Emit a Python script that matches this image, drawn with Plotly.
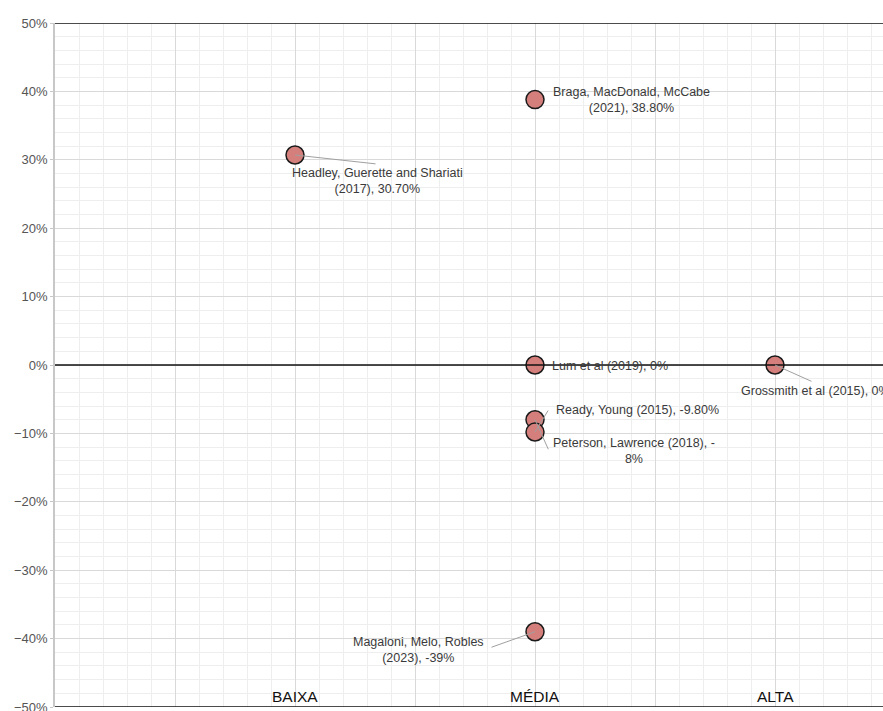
import plotly.graph_objects as go

# ---- data ----
categories = ["BAIXA", "MÉDIA", "ALTA"]
studies = [
    "Headley, Guerette and Shariati<br>(2017), 30.70%",
    "Braga, MacDonald, McCabe<br>(2021), 38.80%",
    "Lum et al (2019), 0%",
    "Grossmith et al (2015), 0%",
    "Peterson, Lawrence (2018), -<br>8%",
    "Ready, Young (2015), -9.80%",
    "Magaloni, Melo, Robles<br>(2023), -39%",
]
level = ["BAIXA", "MÉDIA", "MÉDIA", "ALTA", "MÉDIA", "MÉDIA", "MÉDIA"]
effect = [0.307, 0.388, 0.0, 0.0, -0.08, -0.098, -0.39]

# label placement (pixel offsets from point: text centre, leader end)
text_off = [(82, 26), (96, 0), (75, 1), (40, 26), (99, 31), (102, -22), (-117, 18)]
lead_off = [(82, 9), None, None, (38, 17), (14, 31), (14, -23), (-45, 16)]

xpos = [categories.index(l) + 1 for l in level]

fig = go.Figure()
fig.add_trace(go.Scatter(
    x=xpos, y=effect, mode="markers",
    marker=dict(size=18, color="#d57f7c", line=dict(color="#1a1a1a", width=1.5)),
    hoverinfo="skip", showlegend=False,
))

ann = []
for x, y, t, to, lo in zip(xpos, effect, studies, text_off, lead_off):
    if lo is not None:
        ann.append(dict(x=x, y=y, xref="x", yref="y", text="", showarrow=True,
                        arrowhead=0, arrowwidth=1, arrowcolor="#a0a0a0",
                        ax=lo[0], ay=lo[1], standoff=0, startstandoff=0))
    ann.append(dict(x=x, y=y, xref="x", yref="y", text=t, showarrow=False,
                    xanchor="center", yanchor="middle", align="center",
                    xshift=to[0], yshift=-to[1],
                    font=dict(family="Liberation Sans, Arial", size=12.5, color="#3a3a3a")))

for i, c in enumerate(categories):
    ann.append(dict(x=i + 1, y=-0.5, xref="x", yref="y", text=c, showarrow=False,
                    xanchor="center", yanchor="bottom", yshift=0,
                    font=dict(family="Liberation Sans, Arial", size=15.5, color="#111111")))

shapes = []
for yy in [0.5, 0.0, -0.5]:
    shapes.append(dict(type="line", xref="paper", yref="y", x0=0, x1=1, y0=yy, y1=yy,
                       line=dict(color="#111111", width=1.5), layer="above"))

fig.update_layout(
    width=883, height=711,
    margin=dict(l=55, r=0, t=23, b=4, autoexpand=False),
    paper_bgcolor="white", plot_bgcolor="white",
    annotations=ann, shapes=shapes,
    xaxis=dict(range=[0, 3.45], tick0=0, dtick=0.5, showticklabels=False,
               showgrid=True, gridcolor="#d9d9d9", gridwidth=1, zeroline=False,
               minor=dict(dtick=0.1, tick0=0, showgrid=True, gridcolor="#eeeeee", gridwidth=1),
               showline=False, fixedrange=True, automargin=False),
    yaxis=dict(range=[-0.5, 0.5], tick0=0, dtick=0.1, tickformat=".0%",
               showgrid=True, gridcolor="#d9d9d9", gridwidth=1, zeroline=False,
               minor=dict(dtick=0.02, tick0=0, showgrid=True, gridcolor="#eeeeee", gridwidth=1),
               showline=True, linecolor="#c8c8c8", linewidth=1.5,
               ticks="outside", ticklen=3, tickcolor="#c8c8c8",
               ticklabeloverflow="allow",
               tickfont=dict(family="Liberation Sans, Arial", size=13, color="#555555"),
               fixedrange=True, automargin=False),
)

fig.write_html("out.html", config={"displayModeBar": False},
               post_script="document.body.style.margin='0';document.body.style.overflow='hidden';")
